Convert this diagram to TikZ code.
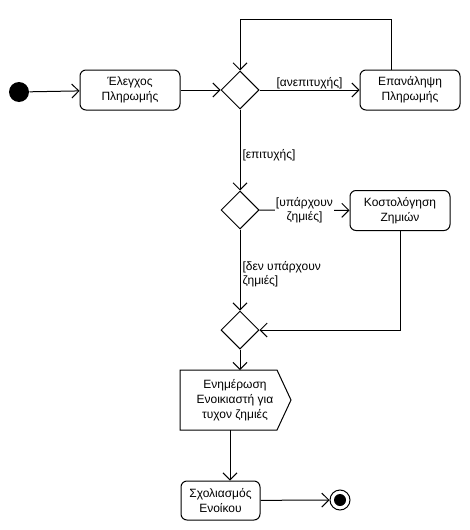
\documentclass[tikz,border=0pt]{standalone}
\usepackage{fontspec}
\setmainfont{Liberation Sans}
\usetikzlibrary{arrows.meta,shapes.geometric}

\begin{document}
\begin{tikzpicture}[x=1pt,y=-1pt,line width=1pt,
  act/.style={draw, rounded corners=6pt, minimum width=100pt, minimum height=40pt,
    align=center, inner sep=2pt, font=\fontsize{12}{15}\selectfont},
  dec/.style={draw, diamond, minimum width=38pt, minimum height=38pt, inner sep=0pt},
  flow/.style={draw, -{Straight Barb[length=7pt,width=14pt,line width=1pt]}},
  lbl/.style={font=\fontsize{12}{14.5}\selectfont, inner sep=2pt},
]
\useasboundingbox (0,0) rectangle (470,530);

% initial and final states
\node[circle, fill, minimum size=20pt, inner sep=0pt] (start) at (19,92) {};
\node[circle, draw, minimum size=20pt, inner sep=0pt] (end) at (340,500) {};
\node[circle, fill, minimum size=12pt, inner sep=0pt] (endDot) at (end) {};

% actions
\node[act] (check) at (130,90) {Έλεγχος\\Πληρωμής};
\node[act] (retry) at (410,90) {Επανάληψη\\Πληρωμής};
\node[act] (cost) at (400,210.5) {Κοστολόγηση\\Ζημιών};
\node[act, minimum width=79pt, minimum height=39pt] (note) at (220.5,500.5) {Σχολιασμός\\Ενοίκου};

% decisions / merge
\node[dec] (d1) at (240,90) {};
\node[dec] (d2) at (240,210) {};
\node[dec] (d3) at (240,330) {};

% send-signal action
\draw (180,370) -- (277,370) -- (291,400) -- (277,430) -- (180,430) -- cycle;
\node[align=center, inner sep=0pt, font=\fontsize{12}{15}\selectfont] (notify) at (235,400)
  {Ενημέρωση\\Ενοικιαστή για\\τυχον ζημιές};
\coordinate (notifyIn) at (240,370);
\coordinate (notifyOut) at (230,430);

% flows
\draw[flow] (start) -- (check);
\draw[flow] (check) -- (d1);
\draw[flow] (d1) -- node[lbl, above, inner sep=1pt] {[ανεπιτυχής]} (retry);
\draw[flow] ([xshift=-19pt]retry.north) -- ++(0,-50) -| (d1.north);
\draw[flow] (d1) -- node[lbl, right, pos=0.57] {[επιτυχής]} (d2);
\draw[flow] (d2) -- node[lbl, fill=white, align=center, inner sep=1pt] {[υπάρχουν\\ζημιές]} (cost);
\draw[flow] (d2) -- node[lbl, right, align=left, pos=0.55] {[δεν υπάρχουν\\ζημιές]} (d3);
\draw[flow] (cost.south) |- (d3.east);
\draw[flow] (d3) -- (notifyIn);
\draw[flow] (notifyOut) -- (notifyOut |- note.north);
\draw[flow] (note) -- (end);
\end{tikzpicture}
\end{document}
